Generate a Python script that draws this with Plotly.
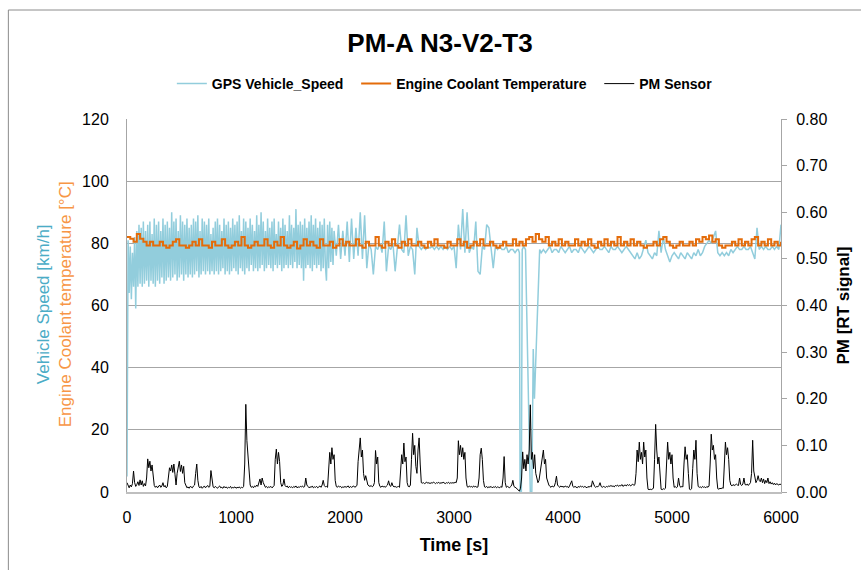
import plotly.graph_objects as go

# ---------------- data ----------------
# GPS vehicle speed [km/h]
speed_a_t0, speed_a_dt = 0, 10          # 0 .. 1900 s
speed_a = [
    5, 81, 64, 79, 62, 77, 66, 82, 59, 84, 66, 86, 67, 85, 66, 87, 67, 84, 68, 86,
    66, 87, 68, 83, 67, 88, 66, 86, 68, 87, 67, 84, 69, 88, 67, 86, 68, 87, 69, 85,
    68, 90, 69, 87, 70, 88, 68, 84, 69, 89, 70, 87, 68, 86, 70, 88, 69, 85, 70, 86,
    69, 88, 70, 87, 71, 89, 69, 84, 70, 88, 71, 87, 70, 86, 71, 88, 70, 83, 71, 85,
    70, 87, 71, 88, 70, 86, 71, 84, 72, 88, 70, 86, 71, 87, 70, 85, 71, 88, 72, 86,
    71, 87, 70, 89, 72, 84, 71, 88, 70, 87, 72, 85, 71, 88, 73, 86, 71, 84, 72, 89,
    71, 86, 72, 90, 73, 87, 71, 84, 72, 88, 73, 85, 72, 87, 71, 88, 73, 83, 72, 87,
    73, 85, 71, 88, 72, 86, 73, 84, 72, 89, 73, 86, 72, 85, 74, 91, 72, 86, 73, 87,
    72, 86, 68, 88, 72, 85, 73, 87, 72, 89, 71, 86, 73, 88, 72, 85, 73, 87, 71, 86,
    72, 88, 73, 68, 86, 72, 87, 74, 85, 73, 84,
]
speed_b_t0, speed_b_dt = 1920, 20       # 1920 .. 3580 s
speed_b = [
    76, 86, 75, 84, 76, 87, 74, 88, 75, 85,
    76, 90, 75, 89, 72, 80, 78, 70, 79, 78,
    80, 77, 87, 71, 79, 78, 80, 71, 79, 86,
    78, 77, 89, 76, 79, 78, 70, 85, 79, 78,
    79, 78, 79, 78.5, 79, 78, 79, 78, 79, 78,
    79, 78, 79, 78, 79, 72, 86, 78, 91, 77,
    90, 77, 79, 78, 87, 71, 70, 79, 78, 86,
    85, 78, 72, 79, 78, 79, 78, 78, 79, 77,
    78, 78, 77, 78,
]
speed_dip_t = [3590, 3600, 3606, 3618, 3626, 3640, 3656, 3700, 3714, 3727, 3738, 3786]
speed_dip = [78, 77, 0, 0, 78, 79, 78, 0, 0, 46, 30, 78]
speed_c_t0, speed_c_dt = 3800, 20       # 3800 .. 6000 s
speed_c = [
    77, 78, 77, 78, 79, 77, 78, 78, 77, 79,
    78, 77, 78, 79, 77, 78, 78, 77, 79, 78,
    77, 78, 79, 78, 77, 78, 79, 78, 78, 79,
    78, 77, 79, 78, 78, 79, 78, 77, 78, 79,
    78, 77, 76, 75, 77, 75, 76, 79, 81, 77,
    76, 75, 77, 76, 84, 77, 82, 78, 76, 74,
    76, 77, 76, 75, 77, 76, 75, 77, 76, 75,
    77, 76, 78, 76, 77, 79, 80, 81, 80, 82,
    84, 77, 76, 77, 76, 77, 76, 78, 77, 78,
    79, 78, 78, 79, 78, 78, 79, 77, 75, 85,
    78, 79, 78, 79, 78, 78, 79, 78, 79, 78,
    86,
]

# Engine coolant temperature [°C], every 30 s
temp_t0, temp_dt = 0, 30
temperature = [
    82, 81.5, 80.5, 83, 81.5, 80.5, 79.3, 80.5, 79.3, 79.3,
    80.5, 79.3, 78.6, 79.3, 80.5, 81.3, 79.3, 79.3, 78.6, 79.3,
    80.5, 79.3, 81.3, 79.3, 79.3, 78.6, 80.5, 79.3, 79.3, 81.3,
    79.3, 78.6, 79.3, 80.5, 79.3, 82, 79.3, 78.6, 79.3, 80.5,
    79.3, 79.3, 81.3, 79.3, 78.6, 80.5, 79.3, 82, 79.3, 78.6,
    79.3, 80.5, 78.3, 79.3, 81.3, 79.3, 80.5, 79.3, 78.6, 81.3,
    79.3, 79.3, 80.5, 78.6, 79.3, 81.3, 79.3, 80.5, 79.3, 79.3,
    81.3, 79.3, 78.6, 80.5, 79.3, 79.3, 82, 79.3, 78.6, 80.5,
    79.3, 81.3, 79.3, 78.6, 80.5, 79.3, 81.3, 79.3, 79.3, 80.5,
    79.3, 78.6, 80.5, 79.3, 81.3, 79.3, 79.3, 78.6, 80.5, 79.3,
    79.3, 81.3, 79.3, 80.5, 78.6, 79.3, 80.5, 79.3, 81.3, 79.3,
    79.3, 80.5, 79.3, 78.6, 79.3, 80.5, 79.3, 79.3, 81.3, 79.3,
    80.5, 79.3, 81.3, 82, 80.5, 83, 81.3, 80.5, 82, 79.3,
    80.5, 79.3, 81.3, 79.3, 80.5, 79.3, 79.3, 81.3, 79.3, 80.5,
    79.3, 81.3, 79.3, 78.6, 80.5, 79.3, 81.3, 79.3, 80.5, 79.3,
    82, 79.3, 80.5, 79.3, 81.3, 79.3, 80.5, 79.3, 78.6, 79.3,
    79.3, 80.5, 79.3, 81.3, 82, 80.5, 79.3, 78.6, 79.3, 80.5,
    79.3, 79.3, 80.5, 79.3, 81.3, 80.5, 82, 81.3, 82.5, 80.5,
    81.3, 79.3, 78.6, 79.3, 79.3, 80.5, 79.3, 81.3, 79.3, 80.5,
    79.3, 81.3, 82, 79.3, 80.5, 79.3, 81.3, 79.3, 80.5, 79.3,
    80.5,
]

# PM sensor [RT signal], in thousandths, every 10 s
pm_t0, pm_dt = 0, 10
pm_milli = [
    20, 12, 9, 15, 11, 18, 45, 20, 12, 16, 22, 14, 26, 15, 24, 12, 18, 13, 30, 71,
    52, 66, 45, 58, 40, 14, 10, 13, 9, 12, 15, 10, 13, 20, 11, 14, 9, 12, 30, 52,
    45, 58, 42, 60, 38, 15, 40, 55, 66, 44, 58, 40, 55, 20, 12, 9, 11, 8, 12, 10,
    9, 13, 15, 40, 60, 25, 11, 9, 12, 8, 10, 13, 9, 11, 14, 10, 12, 46, 20, 11,
    9, 12, 10, 8, 11, 13, 9, 10, 8, 12, 9, 11, 8, 10, 9, 12, 8, 10, 9, 11,
    8, 10, 9, 11, 8, 10, 9, 12, 60, 188, 110, 70, 45, 15, 10, 12, 9, 13, 11, 15,
    12, 18, 28, 15, 30, 20, 13, 10, 12, 9, 11, 10, 12, 9, 11, 14, 70, 92, 60, 85,
    65, 20, 12, 15, 28, 14, 11, 13, 9, 12, 10, 11, 9, 12, 10, 13, 9, 11, 10, 12,
    11, 13, 10, 12, 30, 15, 12, 9, 11, 10, 13, 9, 11, 10, 12, 9, 11, 13, 10, 15,
    25, 14, 11, 12, 10, 40, 85, 60, 95, 70, 80, 25, 12, 10, 13, 11, 12, 9, 11, 10,
    12, 10, 11, 13, 9, 12, 10, 11, 13, 10, 12, 14, 65, 90, 116, 75, 90, 40, 25, 35,
    20, 15, 13, 12, 14, 11, 13, 20, 89, 60, 75, 20, 12, 10, 13, 11, 12, 10, 13, 15,
    24, 14, 12, 20, 13, 11, 12, 10, 11, 12, 10, 40, 80, 60, 105, 65, 75, 20, 12, 11,
    15, 70, 126, 80, 100, 55, 40, 90, 116, 60, 20, 19, 20, 18, 19, 21, 19, 20, 18, 20,
    19, 21, 20, 18, 20, 19, 21, 18, 20, 19, 21, 20, 18, 20, 19, 21, 18, 20, 19, 20,
    19, 21, 20, 30, 110, 80, 100, 75, 95, 70, 85, 30, 12, 10, 13, 11, 12, 10, 13, 11,
    12, 10, 11, 30, 80, 94, 70, 25, 11, 10, 12, 9, 11, 10, 12, 9, 11, 10, 12, 9,
    11, 10, 9, 12, 10, 30, 76, 20, 10, 12, 11, 9, 12, 15, 25, 12, 10, 9, 6, 3,
    2, 8, 30, 86, 50, 70, 45, 80, 60, 90, 187, 70, 85, 50, 80, 40, 30, 20, 25, 40,
    60, 75, 90, 60, 70, 30, 20, 15, 12, 10, 13, 11, 12, 20, 34, 15, 12, 10, 13, 11,
    12, 10, 13, 11, 12, 9, 13, 18, 24, 12, 10, 12, 11, 9, 12, 10, 13, 11, 12, 10,
    12, 11, 9, 12, 10, 13, 11, 24, 15, 12, 10, 12, 11, 14, 20, 12, 10, 12, 11, 10,
    12, 11, 13, 12, 14, 12, 13, 11, 14, 13, 15, 12, 14, 13, 16, 12, 14, 15, 13, 16,
    14, 16, 13, 15, 17, 14, 16, 40, 90, 65, 107, 70, 85, 60, 107, 75, 90, 30, 6, 5,
    6, 5, 7, 8, 70, 145, 90, 60, 75, 30, 6, 5, 7, 6, 8, 60, 107, 70, 85, 60,
    80, 30, 10, 12, 9, 11, 30, 14, 10, 12, 11, 60, 97, 70, 80, 40, 6, 5, 7, 50,
    90, 70, 111, 40, 12, 10, 11, 9, 12, 10, 11, 9, 12, 10, 13, 60, 124, 90, 100, 70,
    80, 30, 7, 6, 8, 7, 9, 8, 60, 107, 80, 95, 70, 25, 15, 13, 16, 14, 15, 17,
    15, 14, 30, 16, 14, 17, 30, 16, 15, 17, 14, 16, 20, 40, 111, 45, 30, 20, 25, 35,
    25, 22, 30, 20, 28, 18, 25, 20, 30, 18, 22, 17, 20, 16, 19, 15, 18, 16, 15, 17,
    16,
]
pm_signal = [v / 1000 for v in pm_milli]

x_ticks = [0, 1000, 2000, 3000, 4000, 5000, 6000]

# ---------------- assemble time axes ----------------
def times(t0, dt, n):
    return [t0 + dt * i for i in range(n)]

speed_t = (times(speed_a_t0, speed_a_dt, len(speed_a)) + times(speed_b_t0, speed_b_dt, len(speed_b))
           + speed_dip_t + times(speed_c_t0, speed_c_dt, len(speed_c)))
speed_v = speed_a + speed_b + speed_dip + speed_c
temp_t = times(temp_t0, temp_dt, len(temperature))
pm_t = times(pm_t0, pm_dt, len(pm_signal))

FONT = "Liberation Sans, Arial, sans-serif"
BLUE = "#92CDDC"
ORANGE = "#E46C0A"
SP = "\u00a0\u00a0"

# plot area in pixels: x 127..783, y 119..492
PL, PW, PB, PH = 127, 656, 492, 373

fig = go.Figure()
fig.add_trace(go.Scatter(x=speed_t, y=speed_v, mode="lines", name="<b>GPS Vehicle_Speed</b>" + SP,
                         line=dict(color=BLUE, width=1.5)))
fig.add_trace(go.Scatter(x=temp_t, y=temperature, mode="lines", name="<b>Engine Coolant Temperature</b>" + SP,
                         line=dict(color=ORANGE, width=2, shape="hv")))
fig.add_trace(go.Scatter(x=pm_t, y=pm_signal, mode="lines", name="<b>PM Sensor</b>", yaxis="y2",
                         line=dict(color="black", width=1)))

fig.update_layout(
    width=861, height=570,
    margin=dict(l=PL, r=861 - PL - PW, t=PB - PH, b=570 - PB),
    paper_bgcolor="white", plot_bgcolor="white",
    font=dict(family=FONT, color="black", size=16),
    showlegend=True,
    title=dict(text="<b>PM-A N3-V2-T3</b>", x=440 / 861, xanchor="center", xref="container",
               y=1 - 43 / 570, yanchor="middle", font=dict(size=26, family=FONT, color="black")),
    legend=dict(orientation="h", x=0.486, xanchor="center", y=(PB - 84) / PH, yanchor="middle",
                font=dict(size=14, family=FONT), bgcolor="rgba(0,0,0,0)", traceorder="normal",
                itemwidth=30),
    xaxis=dict(range=[0, 6000], tickvals=x_ticks, ticktext=[str(v) for v in x_ticks],
               showgrid=False, zeroline=False, showline=True, linecolor="#BFBFBF", linewidth=2,
               ticks="", ticklabelstandoff=10, tickfont=dict(size=16),
               title=dict(text="<b>Time [s]</b>", font=dict(size=18), standoff=13)),
    yaxis=dict(range=[0, 120], dtick=20, showgrid=True, gridcolor="#A6A6A6", gridwidth=1,
               zeroline=False, showline=True, linecolor="#A6A6A6", linewidth=1, ticks="",
               ticklabelstandoff=14, tickfont=dict(size=16)),
    yaxis2=dict(range=[0, 0.8], dtick=0.1, tickformat=".2f", overlaying="y", side="right",
                showgrid=False, zeroline=False, showline=True, linecolor="#A6A6A6", linewidth=1,
                ticks="outside", ticklen=5, tickcolor="#A6A6A6", ticklabelstandoff=6,
                tickfont=dict(size=16),
                title=dict(text="<b>PM [RT signal]</b>", font=dict(size=17), standoff=10)),
    annotations=[
        dict(text="<span style='color:#4BACC6'>Vehicle Speed [km/h]</span><br>"
                  "<span style='color:#F79646'>Engine Coolant temperature [°C]</span>",
             xref="paper", yref="paper",
             x=(54 - PL) / PW, y=(PB - 304) / PH, xanchor="center", yanchor="middle",
             textangle=-90, showarrow=False, align="center",
             font=dict(size=17, family=FONT)),
    ],
    shapes=[dict(type="rect", xref="paper", yref="paper",
                 x0=(8 - PL) / PW, x1=1.5, y0=-0.6, y1=(PB - 10) / PH,
                 line=dict(color="#8C8C8C", width=1), fillcolor="rgba(0,0,0,0)", layer="above")],
)

fig.write_html("out.html")
